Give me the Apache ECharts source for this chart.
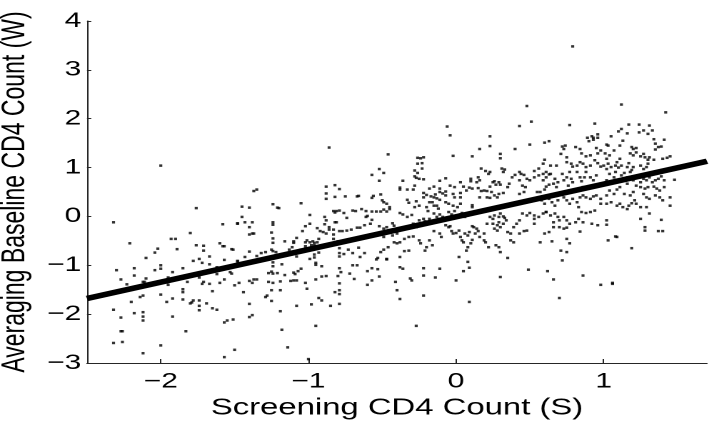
<!DOCTYPE html>
<html>
<head>
<meta charset="utf-8">
<script src="https://cdn.jsdelivr.net/npm/echarts@6/dist/echarts.min.js"></script>
<style>
html,body{margin:0;padding:0;background:#fff;}
#wrap{width:714px;height:422px;overflow:hidden;position:relative;}
#main{width:500px;height:422px;transform:scaleX(1.428);transform-origin:0 0;}
</style>
</head>
<body>
<div id="wrap"><div id="main"></div></div>
<script>
// Axis labels and ticks
const xTicks = [-2, -1, 0, 1];
const xRange = [-2.5, 1.7];
const yRange = [-3, 4];
const xTitle = 'Screening CD4 Count (S)';
const yTitle = 'Averaging Baseline CD4 Count (W)';

// Fitted line (endpoints at axis limits)
const lineX = [-2.5, 1.7];
const lineY = [-1.68, 1.13];

// Scatter points [S, W]
const pointsLeft = [
[-2.00,1.04],[-1.76,0.17],[-2.32,-0.12],[-1.58,-0.16],[-1.48,-0.14],[-1.80,-0.34],[-1.93,-0.46],[-1.90,-0.46],
[-2.21,-0.55],[-2.02,-0.66],[-1.89,-0.67],[-2.04,-0.74],[-1.60,-0.55],[-1.58,-0.61],[-1.57,-0.61],[-1.76,-0.59],
[-1.71,-0.60],[-1.71,-0.70],[-1.52,-0.67],[-2.10,-0.85],[-1.78,-0.91],[-1.74,-0.87],[-1.67,-0.82],[-1.57,-0.89],
[-1.48,-0.92],[-1.72,-0.95],[-1.67,-0.98],[-2.00,-1.00],[-2.00,-1.07],[-2.18,-1.06],[-2.30,-1.10],[-2.04,-1.10],
[-1.85,-1.06],[-1.62,-1.04],[-1.62,-1.11],[-1.53,-1.14],[-1.52,-1.17],[-2.18,-1.21],[-2.10,-1.27],[-2.27,-1.29],
[-1.92,-1.14],[-1.74,-1.25],[-1.62,-1.18],[-1.95,-1.25],[-1.82,-1.34],[-2.23,-1.39],[-1.95,-1.40],[-2.12,-1.34],
[-2.11,-1.34],[-1.85,-1.49],[-1.85,-1.55],[-1.72,-1.38],[-1.71,-1.34],[-1.65,-1.53],[-1.67,-1.38],[-1.60,-1.36],
[-1.57,-1.29],[-1.50,-1.41],[-1.47,-1.36],[-2.14,-1.65],[-2.12,-1.62],[-2.20,-1.75],[-2.00,-1.60],[-1.96,-1.75],
[-1.92,-1.68],[-1.85,-1.70],[-1.80,-1.78],[-1.79,-1.76],[-1.78,-1.72],[-1.74,-1.72],[-1.74,-1.83],[-1.74,-1.92],
[-1.69,-1.78],[-1.65,-1.88],[-1.62,-1.91],[-2.32,-1.91],[-2.18,-1.98],[-2.12,-1.96],[-2.12,-2.05],[-2.12,-2.13],
[-1.92,-2.05],[-2.27,-2.07],[-1.57,-2.17],[-1.55,-2.13],[-1.51,-2.11],[-2.27,-2.35],[-2.26,-2.35],[-1.83,-2.35],
[-2.32,-2.59],[-2.26,-2.57],[-2.00,-2.64],[-2.12,-2.80],[-1.50,-2.73],[-1.57,-2.88]
];
const pointsMidLeft = [
[-0.86,1.41],[-0.46,1.27],[-0.52,0.97],[-0.49,0.89],[-0.57,0.85],[-0.52,0.73],[-1.05,0.27],[-1.37,0.52],
[-1.35,0.55],[-1.45,0.20],[-1.40,0.18],[-1.48,-0.15],[-1.45,-0.01],[-1.43,-0.12],[-1.38,-0.12],[-1.40,-0.22],
[-1.40,-0.37],[-1.38,-0.35],[-1.37,-0.35],[-1.24,0.25],[-1.21,0.18],[-1.20,0.17],[-1.24,-0.12],[-1.24,-0.17],
[-1.25,-0.33],[-1.24,-0.45],[-1.24,-0.54],[-1.51,-0.68],[-1.40,-0.72],[-1.35,-0.81],[-1.43,-0.83],[-1.48,-0.91],
[-1.32,-0.75],[-1.29,-0.73],[-1.25,-0.68],[-1.24,-0.71],[-1.22,-0.73],[-1.24,-0.83],[-1.24,-0.94],[-1.24,-1.02],
[-1.18,-0.98],[-1.16,-0.51],[-1.10,-0.51],[-1.10,-0.54],[-1.13,-0.68],[-1.11,-0.63],[-1.08,-0.44],[-1.05,-0.68],
[-1.08,-0.82],[-1.04,-0.30],[-1.02,-0.20],[-0.99,0.03],[-0.99,-0.15],[-1.02,-0.53],[-1.01,-0.49],[-0.99,-0.53],
[-0.97,-0.51],[-0.96,-0.54],[-1.02,-0.61],[-0.98,-0.59],[-0.96,-0.59],[-0.94,-0.53],[-0.93,-0.46],[-0.96,-0.78],
[-0.96,-0.84],[-0.93,-0.74],[-0.95,-0.95],[-0.95,-0.99],[-0.99,-0.87],[-0.91,-1.02],[-0.91,-1.23],[-0.88,-1.22],
[-0.95,-1.29],[-1.05,-1.07],[-1.10,-1.15],[-1.09,-1.18],[-1.07,-1.12],[-1.12,-1.32],[-1.10,-1.31],[-1.08,-1.31],
[-1.16,-1.20],[-1.19,-1.33],[-1.02,-1.36],[-1.01,-1.48],[-1.27,-1.16],[-1.25,-1.13],[-1.24,-1.17],[-1.21,-1.16],
[-1.27,-1.34],[-1.24,-1.36],[-1.25,-1.51],[-1.29,-1.65],[-1.28,-1.62],[-1.25,-1.73],[-1.19,-1.51],[-1.19,-1.94],
[-1.40,-1.32],[-1.38,-1.36],[-1.37,-1.29],[-1.35,-1.29],[-1.44,-1.55],[-1.40,-1.79],[-1.40,-2.06],[-1.38,-2.02],
[-1.18,-2.32],[-1.08,-1.83],[-0.98,-1.80],[-0.93,-1.67],[-0.91,-1.72],[-0.95,-2.24],[-0.85,-1.83],[-1.14,-2.68],
[-1.00,-2.92],
[-0.88,0.61],[-0.82,0.64],[-0.79,0.56],[-0.88,0.47],[-0.88,0.36],[-0.82,0.40],[-0.75,0.41],[-0.67,0.41],
[-0.66,0.42],[-0.57,0.38],[-0.56,0.42],[-0.51,0.45],[-0.50,0.33],[-0.49,0.29],[-0.47,0.26],[-0.45,0.19],
[-0.89,-0.01],[-0.88,-0.08],[-0.83,0.11],[-0.82,0.08],[-0.81,0.11],[-0.79,0.12],[-0.82,-0.12],[-0.81,-0.12],
[-0.76,0.07],[-0.74,-0.03],[-0.70,0.12],[-0.68,0.11],[-0.64,0.15],[-0.61,0.11],[-0.60,0.01],[-0.57,0.10],
[-0.54,0.10],[-0.51,0.10],[-0.49,0.14],[-0.47,0.10],[-0.45,0.15],[-0.89,-0.16],[-0.86,-0.22],[-0.86,-0.27],
[-0.88,-0.35],[-0.90,-0.32],[-0.94,-0.24],[-0.92,-0.30],[-0.83,-0.27],[-0.83,-0.37],[-0.79,-0.30],[-0.77,-0.30],
[-0.74,-0.29],[-0.71,-0.27],[-0.67,-0.23],[-0.65,-0.23],[-0.62,-0.18],[-0.61,-0.01],[-0.58,-0.15],[-0.57,-0.07],
[-0.52,-0.20],[-0.49,-0.25],[-0.47,-0.22],[-0.83,-0.46],[-0.82,-0.55],[-0.80,-0.51],[-0.79,-0.65],[-0.79,-0.75],
[-0.79,-0.82],[-0.76,-0.77],[-0.73,-0.68],[-0.70,-0.75],[-0.66,-0.64],[-0.65,-0.83],[-0.62,-0.75],[-0.70,-1.00],
[-0.67,-1.00],[-0.60,-1.12],[-0.57,-1.06],[-0.53,-1.08],[-0.54,-0.88],[-0.53,-0.85],[-0.51,-0.73],[-0.49,-0.68],
[-0.47,-0.88],[-0.46,-0.63],[-0.79,-1.06],[-0.78,-1.14],[-0.80,-1.22],[-0.72,-1.17],[-0.69,-1.28],[-0.60,-1.40],
[-0.57,-1.31],[-0.52,-1.23],[-0.79,-1.37],[-0.82,-1.55],[-0.79,-1.51],[-0.79,-1.59],[-0.79,-1.79]
];
const pointsMidRight = [
[0.48,2.26],[0.51,1.94],[0.43,1.85],[-0.06,1.84],[-0.04,1.66],[0.23,1.64],[0.23,1.44],[0.16,1.38],
[0.40,1.38],[0.50,1.47],[0.60,1.51],[0.63,1.54],[0.30,1.28],[0.30,1.19],[-0.02,1.24],[0.11,1.23],
[-0.26,1.20],[-0.24,1.19],[-0.22,1.21],[-0.26,1.08],[-0.23,1.09],[-0.28,0.94],[-0.26,0.89],[-0.23,0.98],
[-0.28,0.82],[-0.27,0.79],[-0.25,0.77],[-0.22,0.76],[-0.28,0.63],[-0.36,0.73],[-0.38,0.59],[-0.38,0.55],
[-0.33,0.55],[-0.29,0.55],[-0.11,0.73],[-0.07,0.78],[0.10,0.77],[0.10,0.72],[0.15,0.80],[0.17,0.98],
[0.16,0.74],[0.14,0.70],[0.20,0.93],[0.23,0.91],[0.22,0.87],[-0.07,0.51],[-0.09,0.47],[-0.07,0.43],
[-0.11,0.57],[-0.11,0.50],[-0.15,0.39],[-0.14,0.45],[-0.17,0.41],[-0.22,0.39],[-0.20,0.44],[-0.18,0.29],
[-0.13,0.37],[-0.11,0.34],[-0.02,0.46],[-0.01,0.39],[0.03,0.48],[0.03,0.39],[0.05,0.61],[0.07,0.53],
[0.09,0.59],[0.11,0.57],[0.15,0.58],[0.17,0.52],[0.19,0.53],[0.21,0.52],[0.23,0.61],[0.25,0.70],
[0.26,0.72],[0.27,0.65],[0.29,0.70],[0.30,0.65],[0.33,0.96],[0.31,0.98],[0.32,0.91],[0.36,0.67],
[0.35,0.60],[0.38,0.80],[0.40,0.85],[0.43,0.91],[0.44,0.87],[0.46,0.85],[0.43,0.74],[0.45,0.63],
[0.47,0.60],[0.48,0.77],[0.50,0.74],[0.53,0.80],[0.53,0.93],[0.56,0.98],[0.59,1.08],[0.60,1.16],
[0.56,0.84],[0.59,0.87],[0.61,0.91],[0.63,0.86],[0.61,0.61],[0.63,0.65],[0.55,0.50],[0.57,0.50],
[0.60,0.55],[0.43,0.46],[0.46,0.50],[0.24,0.50],[0.26,0.43],[0.28,0.39],[0.29,0.46],[0.32,0.48],
[0.21,0.39],[0.23,0.38],[0.16,0.39],[0.11,0.23],[0.11,0.19],[0.03,0.26],[0.01,0.19],[-0.02,0.22],
[-0.07,0.29],[-0.05,0.26],[-0.13,0.22],[-0.12,0.16],[-0.16,0.29],[-0.15,0.22],[-0.20,0.19],[-0.19,0.11],
[-0.27,0.31],[-0.25,0.22],[-0.28,0.19],[-0.33,0.34],[-0.32,0.28],[-0.38,0.07],[-0.36,0.04],[-0.33,-0.01],
[-0.30,0.03],[-0.43,-0.14],[-0.42,-0.19],[-0.49,-0.42],[-0.45,-0.33],[-0.43,-0.39],[-0.40,-0.35],[-0.42,-0.53],
[-0.40,-0.55],[-0.38,-0.53],[-0.35,-0.46],[-0.32,-0.42],[-0.29,-0.41],[-0.30,-0.22],[-0.29,-0.15],[-0.27,-0.22],
[-0.25,-0.08],[-0.22,-0.05],[-0.21,-0.10],[-0.18,-0.05],[-0.15,0.06],[-0.13,-0.01],[-0.11,0.04],[-0.10,-0.08],
[-0.09,-0.01],[-0.05,0.09],[-0.03,0.04],[-0.01,0.11],[0.03,0.04],[0.04,0.07],[0.06,-0.01],[0.08,0.02],
[-0.07,-0.18],[-0.05,-0.22],[-0.04,-0.20],[-0.03,-0.30],[-0.02,-0.35],[0.00,-0.34],[0.02,-0.29],[0.03,-0.42],
[0.04,-0.49],[0.05,-0.53],[-0.11,-0.35],[-0.10,-0.42],[-0.15,-0.30],[-0.18,-0.49],[-0.16,-0.59],[-0.20,-0.63],
[-0.21,-0.70],[-0.25,-0.49],[-0.24,-0.55],[-0.35,-0.71],[-0.32,-0.70],[-0.47,-0.87],[-0.38,-0.83],[-0.38,-1.04],
[-0.36,-1.07],[-0.31,-1.27],[-0.30,-1.31],[-0.22,-1.06],[-0.22,-1.21],[-0.11,-1.07],[-0.14,-1.25],[-0.41,-1.34],
[-0.40,-1.51],[-0.38,-1.69],[-0.22,-1.62],[-0.27,-2.24],[0.00,-1.31],[0.09,-1.75],[0.02,-0.83],[0.08,-0.93],
[0.09,-1.05],[0.05,-1.12],[0.07,-0.70],[0.08,-0.63],[0.10,-0.55],[0.11,-0.48],[0.06,-0.35],[0.08,-0.39],
[0.09,-0.32],[0.11,-0.20],[0.12,-0.22],[0.14,-0.25],[0.15,-0.30],[0.13,-0.35],[0.16,-0.42],[0.19,-0.35],
[0.21,-0.15],[0.23,-0.01],[0.25,-0.05],[0.26,0.02],[0.29,-0.01],[0.30,0.06],[0.32,0.00],[0.33,-0.03],
[0.25,-0.15],[0.28,-0.18],[0.29,-0.12],[0.26,-0.25],[0.28,-0.29],[0.30,-0.22],[0.32,-0.15],[0.34,-0.08],
[0.35,-0.32],[0.37,-0.35],[0.39,-0.22],[0.41,-0.15],[0.43,-0.08],[0.43,-0.35],[0.46,-0.30],[0.48,-0.29],
[0.45,0.06],[0.48,0.02],[0.50,0.07],[0.53,0.02],[0.53,-0.05],[0.53,-0.15],[0.56,-0.01],[0.59,0.06],
[0.61,0.09],[0.57,-0.53],[0.63,-0.32],[0.60,-0.35],[0.37,-0.49],[0.39,-0.53],[0.27,-0.59],[0.29,-0.63],
[0.30,-0.73],[0.35,-0.85],[0.30,-1.24],[0.49,-1.09],[0.62,-1.12],[0.19,-0.49],[0.20,-0.53],[0.22,-0.63],
[-0.04,0.63],[-0.01,0.60],[0.03,0.70],[-0.18,0.57],[-0.15,0.61],[-0.22,0.48]
];
const pointsRight = [
[0.79,3.48],[1.12,2.29],[1.42,2.13],[0.77,1.87],[0.94,1.90],[1.17,1.88],[1.24,1.88],[1.31,1.86],
[1.12,1.79],[1.10,1.74],[1.05,1.64],[1.02,1.47],[1.03,1.45],[0.89,1.61],[0.92,1.64],[0.93,1.61],
[0.96,1.68],[0.96,1.61],[0.90,1.54],[0.93,1.57],[1.16,1.70],[1.24,1.72],[1.27,1.76],[1.30,1.69],
[1.33,1.76],[1.19,1.42],[1.22,1.40],[1.20,1.38],[1.34,1.58],[1.35,1.49],[1.41,1.57],[1.37,1.42],
[1.39,1.43],[1.35,1.37],[0.72,1.43],[0.74,1.45],[0.73,1.38],[0.81,1.42],[0.84,1.38],[0.71,1.28],
[0.75,1.21],[0.85,1.29],[0.88,1.23],[0.91,1.25],[0.98,1.35],[0.96,1.29],[0.95,1.40],[1.01,1.29],
[1.04,1.25],[1.07,1.35],[1.13,1.55],[1.11,1.45],[1.18,1.29],[1.20,1.25],[1.22,1.31],[1.25,1.23],
[1.27,1.28],[1.28,1.21],[1.30,1.16],[1.31,1.21],[1.34,1.16],[1.40,1.18],[1.43,1.20],[1.45,1.23],
[0.64,1.04],[0.68,1.04],[0.75,1.11],[0.78,1.08],[0.79,1.02],[0.82,1.04],[0.84,1.11],[0.86,1.08],
[0.88,1.01],[0.91,1.04],[0.94,1.15],[0.96,1.09],[0.98,1.02],[1.00,1.04],[1.02,1.18],[1.03,1.08],
[1.05,1.01],[1.08,1.04],[1.09,1.11],[1.11,1.18],[1.12,1.04],[1.10,1.00],[1.16,1.01],[1.17,1.09],
[1.19,0.95],[1.20,1.01],[1.25,1.04],[1.27,0.97],[1.29,1.01],[1.30,1.08],[0.61,0.80],[0.64,0.87],
[0.59,0.74],[0.67,0.77],[0.69,0.70],[0.72,0.87],[0.73,0.74],[0.75,0.80],[0.77,0.91],[0.78,0.77],
[0.79,0.70],[0.82,0.91],[0.84,0.80],[0.85,0.72],[0.87,0.80],[0.88,0.91],[0.91,0.80],[0.93,0.74],
[0.95,0.84],[1.02,0.97],[1.04,0.87],[1.07,0.80],[1.08,0.91],[1.12,0.84],[1.14,0.89],[1.16,0.80],
[1.18,0.91],[1.25,0.80],[1.25,0.70],[1.27,0.77],[1.29,0.74],[1.31,0.80],[1.33,0.70],[1.35,0.74],
[1.37,0.77],[1.39,0.82],[1.41,0.74],[1.48,0.75],[1.22,0.63],[1.25,0.60],[1.28,0.57],[1.30,0.60],
[1.34,0.61],[1.36,0.57],[1.38,0.53],[1.41,0.60],[0.58,0.33],[0.60,0.26],[0.63,0.36],[0.65,0.29],
[0.67,0.22],[0.69,0.33],[0.73,0.39],[0.75,0.33],[0.77,0.26],[0.79,0.36],[0.82,0.29],[0.84,0.39],
[0.86,0.43],[0.88,0.39],[0.91,0.36],[0.93,0.41],[0.95,0.43],[0.98,0.36],[0.98,0.26],[0.83,0.19],
[0.85,0.09],[0.88,0.07],[0.91,0.09],[0.94,0.12],[1.02,0.43],[1.04,0.53],[1.07,0.46],[1.09,0.55],
[1.11,0.60],[1.02,0.26],[1.05,0.29],[1.09,0.22],[1.11,0.26],[1.13,0.19],[1.16,0.15],[1.17,0.22],
[1.19,0.27],[1.21,0.33],[1.22,0.26],[1.25,0.19],[1.14,0.46],[1.18,0.43],[1.20,0.50],[1.27,0.46],
[1.29,0.39],[1.31,0.36],[1.35,0.43],[1.38,0.39],[1.40,0.33],[1.45,0.39],[1.45,0.22],[1.25,-0.05],
[1.29,0.19],[1.31,0.06],[1.39,-0.07],[1.28,-0.22],[1.28,-0.29],[1.37,-0.30],[1.40,-0.30],[0.61,0.09],
[0.64,0.02],[0.67,0.06],[0.69,-0.01],[0.66,-0.12],[0.70,-0.08],[0.73,-0.01],[0.75,-0.08],[0.77,-0.15],
[0.81,-0.12],[0.83,-0.05],[0.70,-0.22],[0.73,-0.25],[0.75,-0.23],[0.66,-0.22],[0.84,-0.31],[0.86,-0.12],
[0.92,-0.15],[0.96,-0.18],[1.02,-0.08],[1.02,-0.17],[0.75,-0.46],[0.77,-0.55],[0.65,-0.51],[0.71,-0.70],
[0.75,-0.73],[0.72,-0.90],[1.03,-0.49],[1.08,-0.41],[1.09,-0.42],[1.19,-0.65],[0.66,-1.29],[0.86,-1.21],
[0.70,-1.67],[0.98,-1.40],[1.06,-1.38],[1.06,-1.36],[0.66,0.67],[0.68,0.60],[0.76,0.63],[0.86,0.60],
[0.92,0.63],[1.00,0.67],[1.02,0.74],[1.09,0.70],[1.16,0.67],[1.20,0.74]
];

const FONT = '"Liberation Sans", Arial, Helvetica, sans-serif';
const fmt = v => (v < 0 ? '\u2212' + String(-v) : String(v));

const chart = echarts.init(document.getElementById('main'), null, {renderer: 'canvas', devicePixelRatio: 2});
const allPoints = pointsLeft.concat(pointsMidLeft, pointsMidRight, pointsRight);
chart.setOption({
  animation: false,
  backgroundColor: '#fff',
  grid: {left: 60.9, right: 4.9, top: 21, bottom: 59, containLabel: false, outerBoundsMode: 'none'},
  xAxis: {
    type: 'value', min: xRange[0], max: xRange[1],
    name: xTitle, nameLocation: 'middle', nameGap: 30,
    nameTextStyle: {fontFamily: FONT, fontSize: 23, color: '#000'},
    axisLine: {show: true, onZero: false, lineStyle: {color: '#262626', width: 1}},
    axisTick: {show: true, inside: true, length: 4, customValues: xTicks, lineStyle: {color: '#262626'}},
    axisLabel: {show: true, customValues: xTicks, formatter: fmt, fontFamily: FONT, fontSize: 21, color: '#000', margin: 8},
    splitLine: {show: false}
  },
  yAxis: {
    type: 'value', min: yRange[0], max: yRange[1], interval: 1,
    name: yTitle, nameLocation: 'middle', nameGap: 33, nameRotate: 90,
    nameTextStyle: {fontFamily: FONT, fontSize: 23, color: '#000'},
    axisLine: {show: true, onZero: false, lineStyle: {color: '#262626', width: 1}},
    axisTick: {show: true, inside: true, length: 3, lineStyle: {color: '#262626'}},
    axisLabel: {show: true, formatter: fmt, fontFamily: FONT, fontSize: 21, color: '#000', margin: 4},
    splitLine: {show: false}
  },
  series: [
    {
      type: 'scatter', data: allPoints, symbol: 'rect', symbolSize: [2.1, 2.5],
      itemStyle: {color: '#000'}, z: 2, silent: true
    },
    {
      type: 'line', data: lineX.map((x, i) => [x, lineY[i]]), showSymbol: false, symbol: 'none',
      lineStyle: {color: '#000', width: 5.5, cap: 'butt'}, z: 3, silent: true
    }
  ]
});
</script>
</body>
</html>
